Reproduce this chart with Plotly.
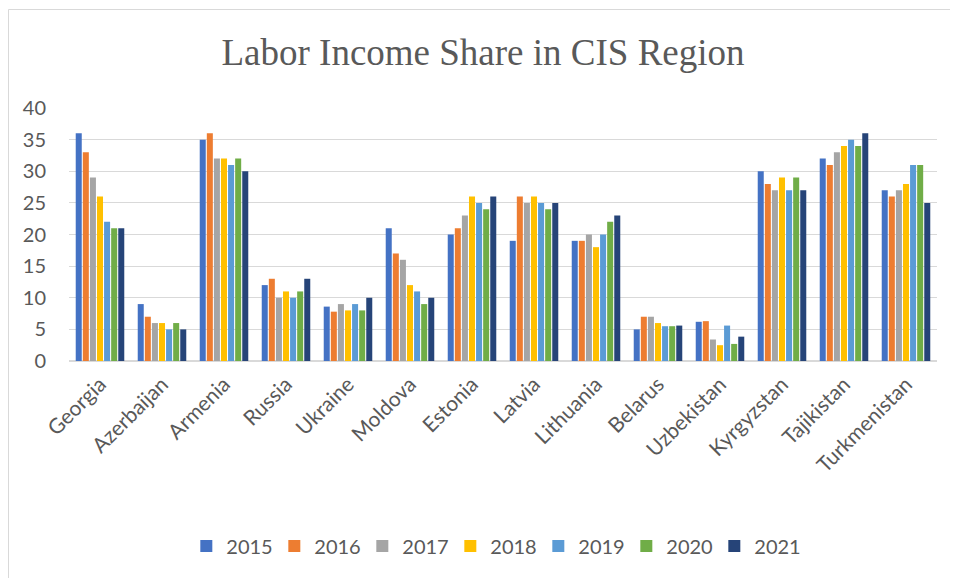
import plotly.graph_objects as go

countries = ["Georgia", "Azerbaijan", "Armenia", "Russia", "Ukraine", "Moldova", "Estonia",
             "Latvia", "Lithuania", "Belarus", "Uzbekistan", "Kyrgyzstan", "Tajikistan", "Turkmenistan"]
years = ["2015", "2016", "2017", "2018", "2019", "2020", "2021"]

v2015 = [36, 9, 35, 12, 8.6, 21, 20, 19, 19, 5, 6.2, 30, 32, 27]
v2016 = [33, 7, 36, 13, 7.8, 17, 21, 26, 19, 7, 6.3, 28, 31, 26]
v2017 = [29, 6, 32, 10, 9, 16, 23, 25, 20, 7, 3.4, 27, 33, 27]
v2018 = [26, 6, 32, 11, 8, 12, 26, 26, 18, 6, 2.5, 29, 34, 28]
v2019 = [22, 5, 31, 10, 9, 11, 25, 25, 20, 5.5, 5.6, 27, 35, 31]
v2020 = [21, 6, 32, 11, 8, 9, 24, 24, 22, 5.5, 2.7, 29, 34, 31]
v2021 = [21, 5, 30, 13, 10, 10, 26, 25, 23, 5.6, 3.85, 27, 36, 25]

series = [v2015, v2016, v2017, v2018, v2019, v2020, v2021]
colors = ["#4472C4", "#ED7D31", "#A5A5A5", "#FFC000", "#5B9BD5", "#70AD47", "#264478"]

W, H = 950, 570
L, R, T, B = 61, 21, 100, 217
PW, PH = W - L - R, H - T - B

fig = go.Figure()
for y, vals, c in zip(years, series, colors):
    fig.add_trace(go.Bar(name=y, x=countries, y=vals, marker=dict(color=c, line=dict(width=0))))

fig.update_layout(
    width=W, height=H,
    paper_bgcolor="white", plot_bgcolor="white",
    margin=dict(l=L, r=R, t=T, b=B, autoexpand=False),
    barmode="group", bargap=0.2, bargroupgap=0.15,
    title=dict(text="Labor Income Share in CIS Region", x=0.5, xanchor="center",
               yref="container", y=1 - 44 / H, yanchor="middle",
               font=dict(family="Liberation Serif", size=37, color="#595959")),
    font=dict(family="Lato", color="#595959"),
    showlegend=True,
    legend=dict(orientation="h", x=0.49, xanchor="center", y=(PH - (546 - 8 - T)) / PH, yanchor="middle",
                font=dict(family="Lato", size=20, color="#595959"), traceorder="normal",
                entrywidth=43, entrywidthmode="pixels"),
    xaxis=dict(tickangle=-45, tickfont=dict(family="Lato", size=21, color="#595959"),
               showline=False, showgrid=False, ticks="", ticklabelstandoff=6),
    yaxis=dict(range=[0, 40], dtick=5, tickfont=dict(family="Lato", size=20, color="#595959"),
               gridcolor="#D9D9D9", gridwidth=1, zeroline=True, zerolinecolor="#D9D9D9",
               showline=False, ticks="", ticklabelstandoff=22),
)

fig.add_shape(type="rect", xref="paper", yref="paper",
              x0=(0.5 - L) / PW, x1=(W + 20 - L) / PW, y0=-(H + 20 - T - PH) / PH, y1=(PH + T - 1.5) / PH,
              line=dict(color="#D9D9D9", width=1), fillcolor="rgba(0,0,0,0)", layer="below")

fig.write_html("out.html")
